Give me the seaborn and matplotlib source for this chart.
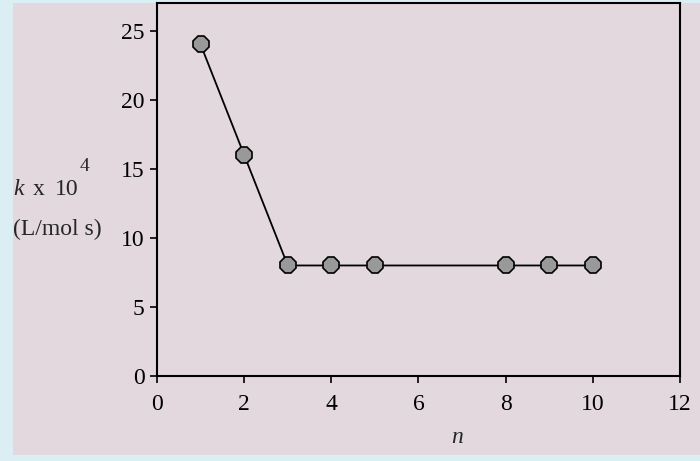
import matplotlib
matplotlib.use("Agg")
import matplotlib.pyplot as plt
import seaborn as sns
import pandas as pd
from matplotlib.patches import Rectangle

# data
n_values = [1, 2, 3, 4, 5, 8, 9, 10]
k_values = [24, 16, 8, 8, 8, 8, 8, 8]
x_ticks = [0, 2, 4, 6, 8, 10, 12]
y_ticks = [0, 5, 10, 15, 20, 25]

df = pd.DataFrame({"n": n_values, "k": k_values})

sns.set_style("ticks")
plt.rcParams["font.family"] = ["Liberation Serif", "DejaVu Serif"]

panel = "#e2d8de"
fig = plt.figure(figsize=(7, 4.61), dpi=100)
fig.patch.set_facecolor("#daeef3")
fig.patches.append(Rectangle((0.0186, 0.012), 0.99, 0.9815, transform=fig.transFigure,
                             facecolor=panel, edgecolor="none", zorder=-5))

ax = fig.add_axes([0.2243, 0.1844, 0.7471, 0.8091])
ax.set_zorder(2)
ax.set_facecolor(panel)
sns.lineplot(data=df, x="n", y="k", ax=ax, color="black", linewidth=1.3,
             marker="8", markersize=13, markerfacecolor="#999999",
             markeredgecolor="black", markeredgewidth=1.2)

ax.set_xlim(0, 12)
ax.set_ylim(0, 27)
ax.set_xticks(x_ticks)
ax.set_yticks(y_ticks)
ax.tick_params(labelsize=17, length=5, width=1.2, colors="black")
ax.tick_params(axis="x", pad=8)
ax.tick_params(axis="y", pad=4)
for s in ax.spines.values():
    s.set_visible(True)
    s.set_linewidth(1.5)
    s.set_color("black")
ax.set_xlabel("")
ax.set_ylabel("")

# axis titles, placed by hand like the original
fig.text(0.653, 0.039, "n", fontsize=17, style="italic", ha="center", va="baseline")
fig.text(0.0186, 0.577, "k", fontsize=17, style="italic", ha="left", va="baseline")
fig.text(0.047, 0.577, "x", fontsize=17, ha="left", va="baseline")
fig.text(0.079, 0.577, "10", fontsize=17, ha="left", va="baseline")
fig.text(0.114, 0.628, "4", fontsize=14, ha="left", va="baseline")
fig.text(0.0186, 0.49, "(L/mol s)", fontsize=17, ha="left", va="baseline")

plt.savefig("out.png", dpi=100, facecolor=fig.get_facecolor())
